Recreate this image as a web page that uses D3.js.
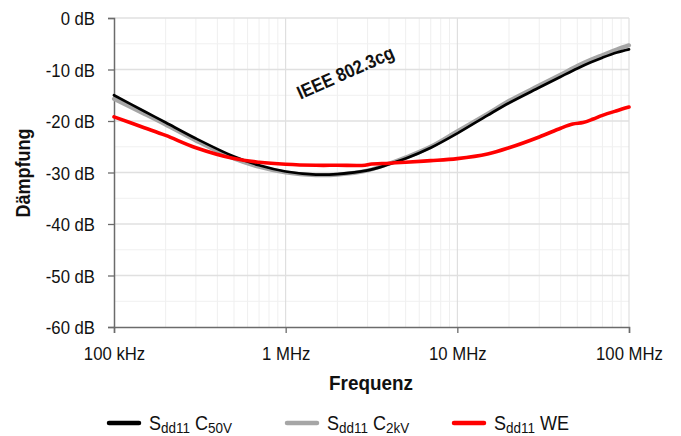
<!DOCTYPE html>
<html>
<head>
<meta charset="utf-8">
<script src="https://cdn.jsdelivr.net/npm/d3@7"></script>
<style>
  html, body { margin: 0; padding: 0; background: #fff; }
  svg { display: block; }
  text { font-family: "Liberation Sans", Arial, sans-serif; }
</style>
</head>
<body>
<svg id="chart" width="681" height="436"></svg>
<script>
// Frequency points in MHz
const freqC = [0.1, 0.15, 0.2, 0.3, 0.5, 0.7, 1, 1.5, 2, 3, 4, 5, 7, 10, 15, 20, 30, 40, 50, 60, 70, 85, 100];
// Sdd11 C50V (dB)
const c50v = [-15.0, -18.1, -20.3, -23.4, -26.9, -28.6, -29.8, -30.4, -30.3, -29.6, -28.4, -27.3, -25.2, -22.4, -18.9, -16.5, -13.5, -11.4, -9.8, -8.6, -7.7, -6.7, -6.1];
// Sdd11 C2kV (dB)
const c2kv = [-15.7, -18.6, -20.7, -23.8, -27.3, -28.9, -30.0, -30.5, -30.4, -29.6, -28.3, -27.1, -25.0, -22.0, -18.6, -16.1, -13.1, -11.0, -9.3, -8.1, -7.2, -6.1, -5.3];
// Sdd11 WE (dB)
const freqW = [0.1, 0.15, 0.2, 0.3, 0.5, 0.7, 1, 1.5, 2, 2.9, 3.1, 4, 5, 7, 10, 15, 20, 30, 40, 47, 54, 62, 70, 85, 100];
const we = [-19.2, -21.3, -22.8, -25.2, -27.3, -28.0, -28.4, -28.6, -28.6, -28.6, -28.4, -28.2, -28.0, -27.7, -27.3, -26.4, -25.2, -23.1, -21.4, -20.6, -20.3, -19.6, -18.9, -18.0, -17.3];

const yTicks = [0, -10, -20, -30, -40, -50, -60];
const xTicks = [0.1, 1, 10, 100];
const xTickLabels = ["100 kHz", "1 MHz", "10 MHz", "100 MHz"];

const svg = d3.select("#chart");
const m = { left: 114, right: 629, top: 18, bottom: 327 };
const K = 0.88; // horizontal squeeze for a condensed look

const x = d3.scaleLog().domain([0.1, 100]).range([m.left, m.right]);
const y = d3.scaleLinear().domain([-60, 0]).range([m.bottom, m.top]);

// grid
const grid = svg.append("g");
const minorX = [];
for (let d = 0.1; d < 100; d *= 10) for (let k = 2; k <= 9; k++) minorX.push(d * k);
grid.selectAll(".vx").data(minorX).enter().append("line")
  .attr("x1", d => x(d)).attr("x2", d => x(d)).attr("y1", m.top).attr("y2", m.bottom)
  .attr("stroke", "#efefef").attr("stroke-width", 1);
const minorY = d3.range(-55, 0, 10);
grid.selectAll(".hy").data(minorY).enter().append("line")
  .attr("x1", m.left).attr("x2", m.right).attr("y1", d => y(d)).attr("y2", d => y(d))
  .attr("stroke", "#f0f0f0").attr("stroke-width", 1);
grid.selectAll(".vX").data(xTicks.slice(1)).enter().append("line")
  .attr("x1", d => x(d)).attr("x2", d => x(d)).attr("y1", m.top).attr("y2", m.bottom)
  .attr("stroke", "#d9d9d9").attr("stroke-width", 1);
grid.selectAll(".hY").data(yTicks.slice(0, -1)).enter().append("line")
  .attr("x1", m.left).attr("x2", m.right).attr("y1", d => y(d)).attr("y2", d => y(d))
  .attr("stroke", "#e0e0e0").attr("stroke-width", 1.3);

// axes
const yAxis = d3.axisLeft(y).tickValues(yTicks).tickSize(6).tickFormat(d => d + " dB");
const gy = svg.append("g").attr("transform", `translate(${m.left},0)`).call(yAxis);
gy.select(".domain").attr("stroke", "#6b6b6b").attr("stroke-width", 1.5);
gy.selectAll(".tick line").attr("stroke", "#6b6b6b").attr("stroke-width", 1.3);
gy.selectAll(".tick text").attr("font-size", 19).attr("fill", "#111")
  .attr("font-family", '"Liberation Sans", Arial, sans-serif')
  .attr("x", -19 / K).attr("dy", "0.36em").attr("transform", `scale(${K},1)`);

const xAxis = d3.axisBottom(x).tickValues(xTicks).tickSize(6).tickFormat((d, i) => xTickLabels[i]);
const gx = svg.append("g").attr("transform", `translate(0,${m.bottom})`).call(xAxis);
gx.select(".domain").attr("stroke", "#6b6b6b").attr("stroke-width", 1.5);
gx.selectAll(".tick line").attr("stroke", "#6b6b6b").attr("stroke-width", 1.3);
gx.selectAll(".tick text").attr("font-size", 19).attr("fill", "#111")
  .attr("font-family", '"Liberation Sans", Arial, sans-serif')
  .attr("y", 33).attr("dy", 0).attr("transform", `scale(${K},1)`);

// curves
const line = d3.line().x(d => x(d[0])).y(d => y(d[1])).curve(d3.curveCatmullRom.alpha(0.5));
const series = [
  { f: freqC, v: c2kv, color: "#a6a6a6", w: 4.2 },
  { f: freqC, v: c50v, color: "#000000", w: 2.7 },
  { f: freqW, v: we, color: "#ff0000", w: 3.6 }
];
const plot = svg.append("g");
series.forEach(s => {
  plot.append("path").datum(s.f.map((f, i) => [f, s.v[i]]))
    .attr("d", line).attr("fill", "none").attr("stroke", s.color)
    .attr("stroke-width", s.w).attr("stroke-linejoin", "round").attr("stroke-linecap", "round");
});

// annotation
svg.append("text").attr("transform", `translate(346,74) rotate(-24) scale(${K},1)`)
  .attr("text-anchor", "middle").attr("dominant-baseline", "middle")
  .attr("font-size", 19).attr("font-weight", "bold").attr("fill", "#111")
  .text("IEEE 802.3cg");

// axis titles
svg.append("text").attr("transform", `translate(30,173) rotate(-90) scale(${K + 0.02},1)`)
  .attr("text-anchor", "middle").attr("font-size", 20).attr("font-weight", "bold").attr("fill", "#111")
  .text("Dämpfung");
svg.append("text").attr("transform", `translate(371,390) scale(${K + 0.02},1)`)
  .attr("text-anchor", "middle").attr("font-size", 21).attr("font-weight", "bold").attr("fill", "#111")
  .text("Frequenz");

// legend
const legend = [
  { color: "#000000", x0: 107, sub1: "dd11", main2: " C", sub2: "50V" },
  { color: "#a6a6a6", x0: 285, sub1: "dd11", main2: " C", sub2: "2kV" },
  { color: "#ff0000", x0: 452, sub1: "dd11", main2: " WE", sub2: "" }
];
const lg = svg.append("g");
legend.forEach(l => {
  lg.append("line").attr("x1", l.x0 + 2).attr("x2", l.x0 + 32).attr("y1", 423).attr("y2", 423)
    .attr("stroke", l.color).attr("stroke-width", 4.5).attr("stroke-linecap", "round");
  const t = lg.append("text").attr("transform", `translate(${l.x0 + 42},430) scale(0.9,1)`)
    .attr("font-size", 20).attr("fill", "#111");
  t.append("tspan").text("S");
  t.append("tspan").attr("font-size", 15).attr("dy", 3).text(l.sub1);
  t.append("tspan").attr("dy", -3).text(l.main2);
  if (l.sub2) t.append("tspan").attr("font-size", 15).attr("dy", 3).text(l.sub2);
});
</script>
</body>
</html>
